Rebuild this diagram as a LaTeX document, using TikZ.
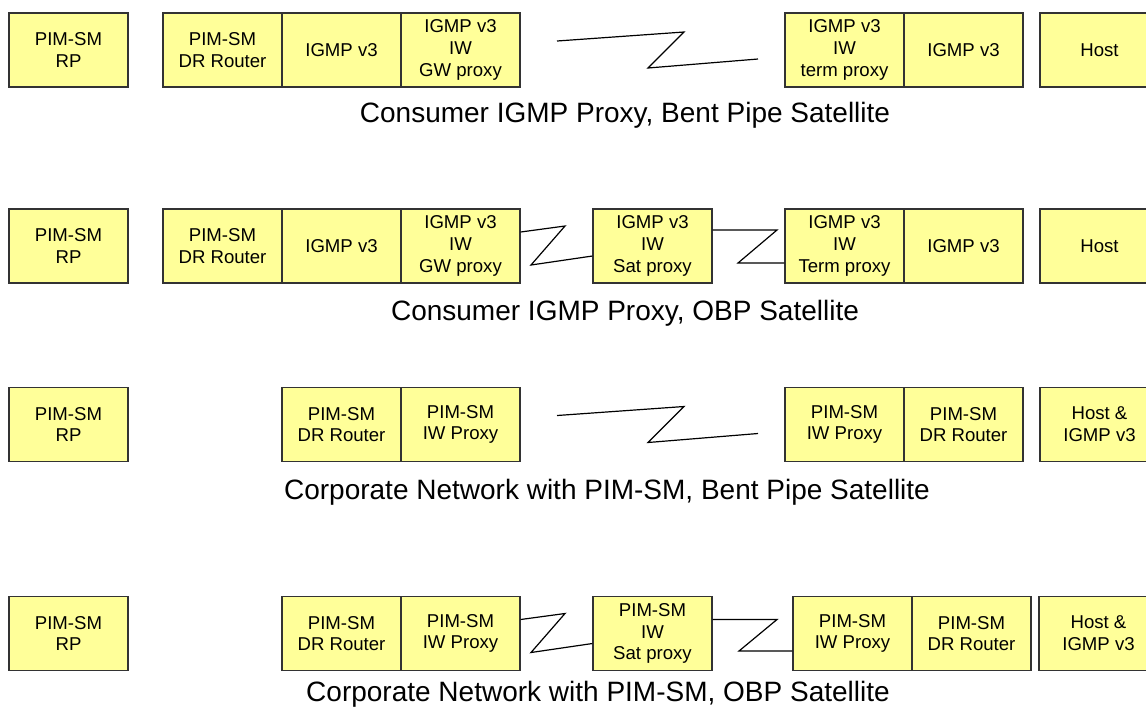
\documentclass[tikz,border=0pt]{standalone}
\usepackage{fontspec}
\setmainfont{Liberation Sans}
\usepackage{tikz}
\usepackage{xcolor}
\definecolor{FontColor}{HTML}{000000}
\definecolor{YellowBox}{HTML}{FFFF99}
\definecolor{LineBox}{HTML}{333333}
\newcommand\noderp{PIM-SM\\RP}
\newcommand\nodedr{PIM-SM\\DR Router}
\newcommand\nodeigmp{IGMP v3}
\newcommand\nodegw{IGMP v3\\IW\\GW proxy}
\newcommand\nodesat{IGMP v3\\IW\\Sat proxy}
\newcommand\nodeterm{IGMP v3\\IW\\term proxy}
\newcommand\nodeTerm{IGMP v3\\IW\\Term proxy}
\newcommand\nodehost{Host}
\newcommand\nodeiw{PIM-SM\\IW Proxy}
\newcommand\nodepimsat{PIM-SM\\IW\\Sat proxy}
\newcommand\nodehostigmp{Host \&\\IGMP v3}
\tikzstyle{mynodestyle} = [rectangle, minimum width=59.5pt, minimum height=37pt, inner sep=0pt, align=center, text=FontColor, font=\fontsize{9.3}{10.9}\selectfont]
\tikzstyle{yn} = [mynodestyle, draw=LineBox, fill=YellowBox]
\tikzstyle{rowlabel} = [anchor=base, inner sep=0pt, text=FontColor, font=\fontsize{14}{16}\selectfont]
\tikzset{>=latex, every picture/.style={line width=0.6pt}}

\begin{document}
\begin{tikzpicture}[x=0.5pt, y=-0.5pt]
\useasboundingbox (0,0) rectangle (1146,709);
% row 1
\node[yn] (rpa) at (68.5, 50) {\noderp};
\node[yn] (dra) at (222.5, 50) {\nodedr};
\node[yn] (igmpa) at (341.5, 50) {\nodeigmp};
\node[yn] (gwa) at (460.5, 50) {\nodegw};
\node[yn] (terma) at (844.5, 50) {\nodeterm};
\node[yn] (igmpta) at (963.5, 50) {\nodeigmp};
\node[yn] (hosta) at (1099.5, 50) {\nodehost};
\coordinate (za) at (557, 41);
\coordinate (zb) at (758, 59);
\draw (za) -- (684, 32) -- (648, 68) -- (zb);
\node[rowlabel] (capa) at (625, 122) {Consumer IGMP Proxy, Bent Pipe Satellite};
% row 2
\node[yn] (rpb) at (68.5, 246) {\noderp};
\node[yn] (drb) at (222.5, 246) {\nodedr};
\node[yn] (igmpb) at (341.5, 246) {\nodeigmp};
\node[yn] (gwb) at (460.5, 246) {\nodegw};
\node[yn] (satb) at (652.5, 246) {\nodesat};
\node[yn] (termb) at (844.5, 246) {\nodeTerm};
\node[yn] (igmptb) at (963.5, 246) {\nodeigmp};
\node[yn] (hostb) at (1099.5, 246) {\nodehost};
\draw ([yshift=7pt]gwb.east) -- (565, 226) -- (531, 265) -- ([yshift=-5pt]satb.west);
\draw ([yshift=8pt]satb.east) -- (777, 230) -- (738, 263) -- ([yshift=-8.5pt]termb.west);
\node[rowlabel] (capb) at (625, 320) {Consumer IGMP Proxy, OBP Satellite};
% row 3
\node[yn] (rpc) at (68.5, 424.5) {\noderp};
\node[yn] (drc) at (341.5, 424.5) {\nodedr};
\node[yn] (iwc) at (460.5, 424.5) {\nodeiw};
\node[yn] (iwtc) at (844.5, 424.5) {\nodeiw};
\node[yn] (drtc) at (963.5, 424.5) {\nodedr};
\node[yn] (hostc) at (1099.5, 424.5) {\nodehostigmp};
\coordinate (zc) at (557, 415.5);
\coordinate (zd) at (758, 433.5);
\draw (zc) -- (684, 406.5) -- (648, 442.5) -- (zd);
\node[rowlabel] (capc) at (607, 499) {Corporate Network with PIM-SM, Bent Pipe Satellite};
% row 4
\node[yn] (rpd) at (68.5, 633.5) {\noderp};
\node[yn] (drd) at (341.5, 633.5) {\nodedr};
\node[yn] (iwd) at (460.5, 633.5) {\nodeiw};
\node[yn] (satd) at (652.5, 633.5) {\nodepimsat};
\node[yn] (iwtd) at (852.5, 633.5) {\nodeiw};
\node[yn] (drtd) at (971.5, 633.5) {\nodedr};
\node[yn] (hostd) at (1098.5, 633.5) {\nodehostigmp};
\draw ([yshift=7pt]iwd.east) -- (565, 613.5) -- (531, 652.5) -- ([yshift=-5pt]satd.west);
\draw ([yshift=7pt]satd.east) -- (777, 619.5) -- (739, 651) -- ([yshift=-8.75pt]iwtd.west);
\node[rowlabel] (capd) at (598, 701) {Corporate Network with PIM-SM, OBP Satellite};
\end{tikzpicture}
\end{document}
